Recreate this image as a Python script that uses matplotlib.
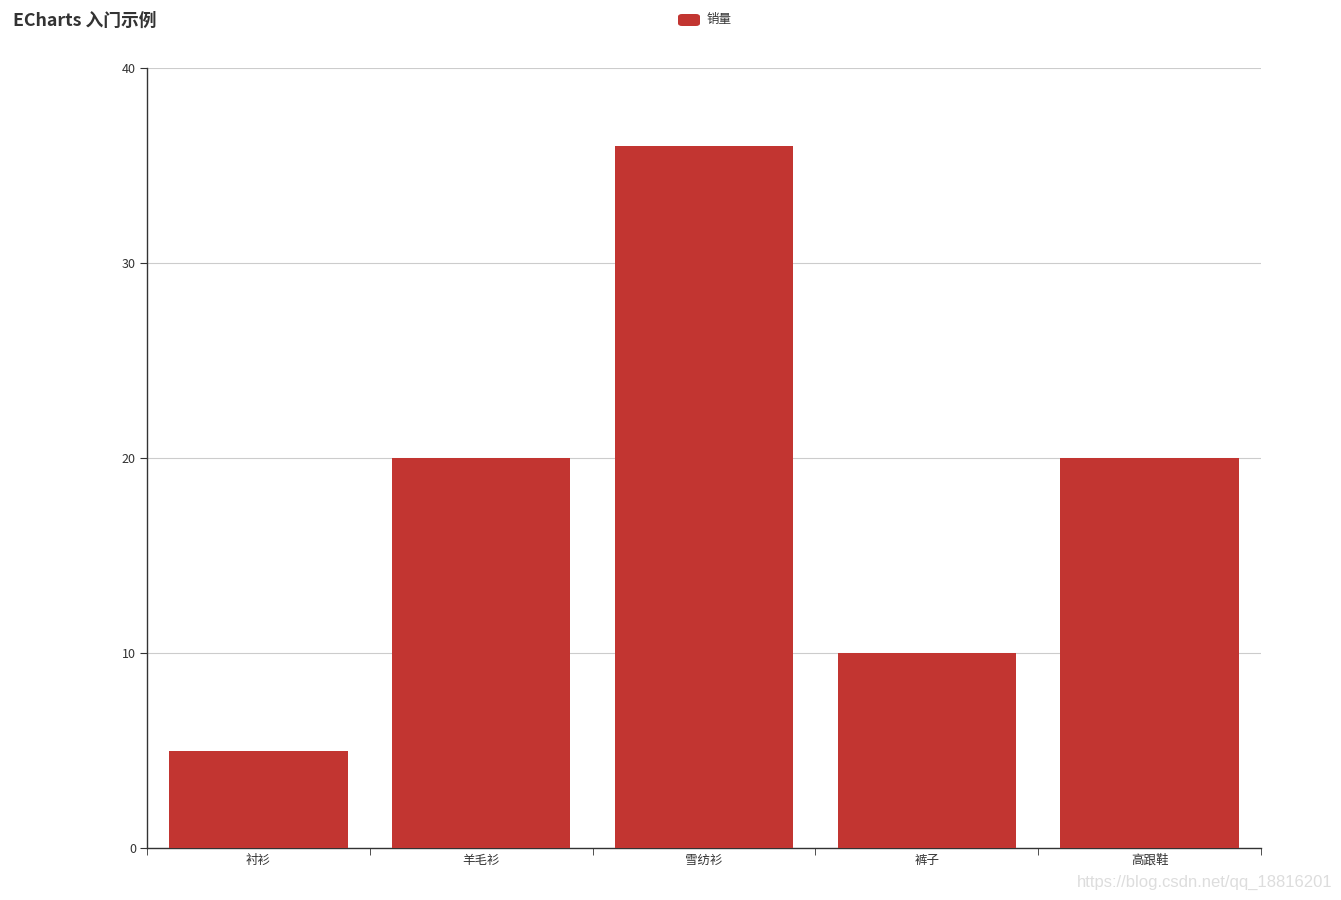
import matplotlib.pyplot as plt
import matplotlib
from matplotlib.patches import FancyBboxPatch
import numpy as np
matplotlib.rcParams['font.family'] = ['Noto Sans CJK SC', 'DejaVu Sans']
matplotlib.rcParams['font.size'] = 9

# 数据
categories = ['衬衫', '羊毛衫', '雪纺衫', '裤子', '高跟鞋']
sales = [5, 20, 36, 10, 20]
series_name = '销量'
bar_color = '#c23531'

fig = plt.figure(figsize=(13.41, 9), dpi=100)
ax = fig.add_axes([147/1341, 52/900, 1114/1341, 780/900])

x = np.arange(len(categories))
ax.bar(x, sales, width=0.8, color=bar_color, zorder=3)

ax.set_xlim(-0.5, len(categories) - 0.5)
ax.set_ylim(0, 40)
ax.set_yticks([0, 10, 20, 30, 40])
ax.grid(axis='y', color='#cccccc', linewidth=0.8, zorder=0)

# x 轴: 标签居中, 刻度在边界
ax.set_xticks(x)
ax.set_xticklabels(categories, color='#333333')
ax.tick_params(axis='x', which='major', length=0, pad=4)
ax.set_xticks(np.arange(-0.5, len(categories)), minor=True)
ax.tick_params(axis='x', which='minor', length=5, color='#333333')
ax.tick_params(axis='y', length=5, color='#333333', labelcolor='#333333', pad=3)

for s in ['top', 'right']:
    ax.spines[s].set_visible(False)
for s in ['left', 'bottom']:
    ax.spines[s].set_color('#333333')
    ax.spines[s].set_linewidth(1)

# 标题
fig.text(13/1341, 1 - 21/900, 'ECharts 入门示例', fontsize=12.8, fontweight='bold',
         color='#333333', ha='left', va='center')

# 图例
leg = FancyBboxPatch((678/1341, 1 - 26/900), 22/1341, 12/900,
                     boxstyle='round,pad=0,rounding_size=0.003',
                     transform=fig.transFigure, facecolor=bar_color, edgecolor='none')
fig.patches.append(leg)
fig.text(707/1341, 1 - 19/900, series_name, fontsize=9, color='#333333',
         ha='left', va='center')

# 水印
fig.text(1333/1341, 1 - 882/900, 'https://blog.csdn.net/qq_18816201', fontsize=12,
         family='Liberation Sans', color='#dddddd', ha='right', va='center')

fig.savefig('out.png', dpi=100)
